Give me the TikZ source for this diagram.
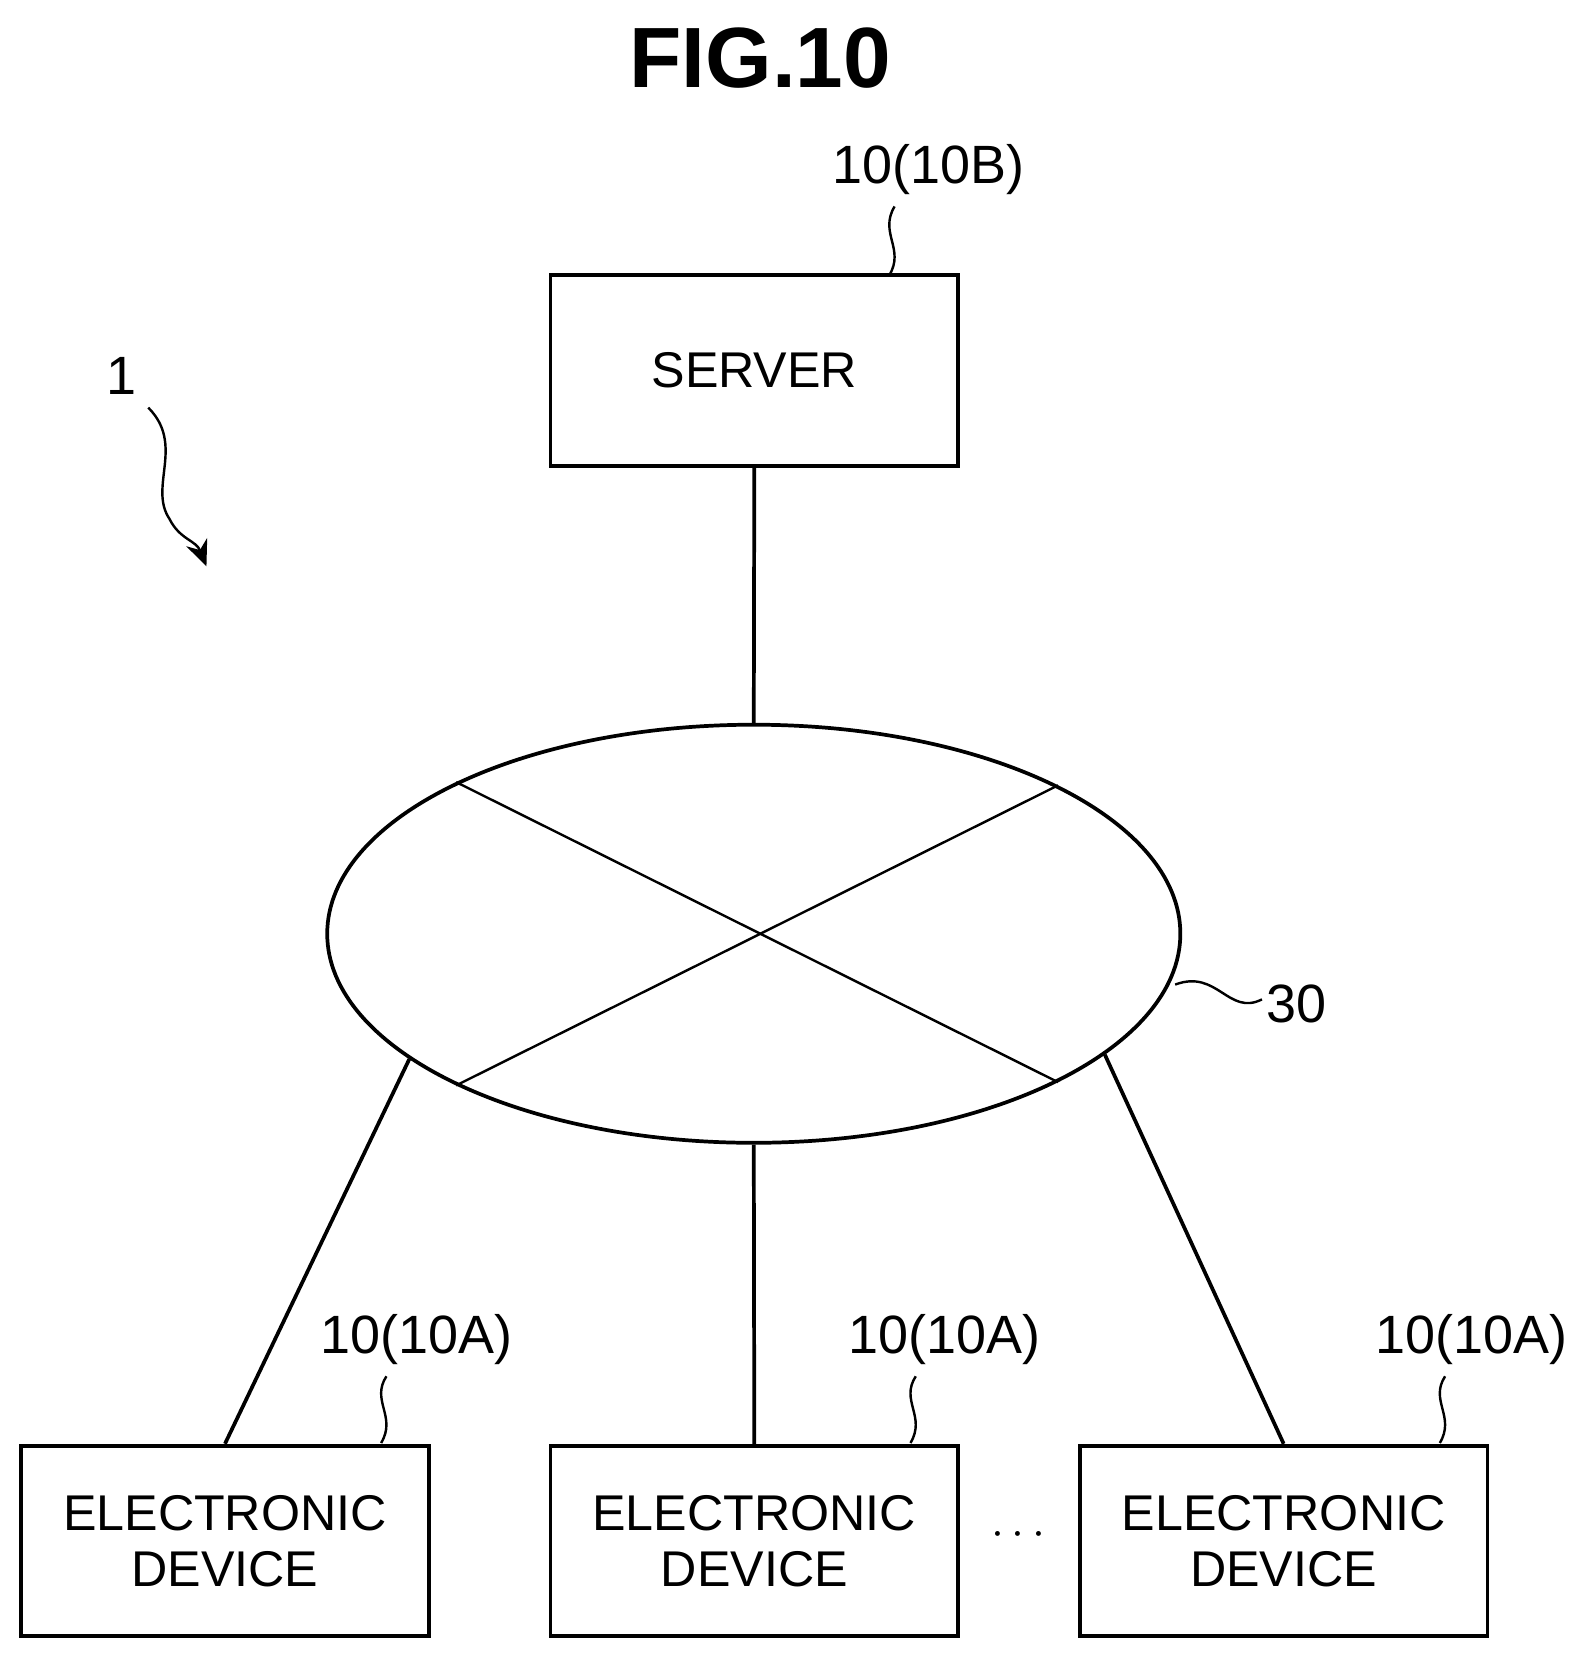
\documentclass[tikz,border=0pt]{standalone}
\usepackage{fontspec}
\setmainfont{Liberation Sans}
\usetikzlibrary{shapes.geometric,arrows.meta}
\tikzset{
	box/.style={draw, line width=2pt, minimum width=7.7cm, minimum height=3.6cm, align=center, font=\fontsize{27}{30}\selectfont},
	lbl/.style={font=\fontsize{29}{32}\selectfont},
	lead/.style={line width=1.3pt},
}
\begin{document}
\begin{tikzpicture}[x=0.02cm, y=-0.02cm, line width=2pt]
	\useasboundingbox (0,0) rectangle (1500,1568);
	\node[font=\fontsize{46}{50}\selectfont\bfseries] (fig) at (718,55) {FIG.10};

	\node[box] (srv) at (712.5,350) {SERVER};
	\node[draw, ellipse, line width=2pt, minimum width=16.12cm, minimum height=7.9cm] (net) at (712,882) {};
	\node[box] (ed1) at (212.5,1455.5) {ELECTRONIC\\DEVICE};
	\node[box] (ed2) at (712.5,1455.5) {ELECTRONIC\\DEVICE};
	\node[box] (ed3) at (1212.5,1455.5) {ELECTRONIC\\DEVICE};
	\node[lbl] (dots) at (962,1450) {$\cdots$};

	% cross inside the network
	\draw[lead] (net.153.4) -- (net.-26.6);
	\draw[lead] (net.26.6) -- (net.-153.4);

	% connections
	\draw (srv.south) -- (net.north);
	\draw (net.-160.8) -- (ed1.north);
	\draw (net.south) -- (ed2.north);
	\draw (net.-19.2) -- (ed3.north);

	% reference labels
	\node[lbl] (l10b) at (877,160) {10(10B)};
	\node[lbl] (l10a1) at (393,1265) {10(10A)};
	\node[lbl] (l10a2) at (892,1265) {10(10A)};
	\node[lbl] (l10a3) at (1390,1265) {10(10A)};
	\node[lbl] (l30) at (1225,948) {30};
	\node[lbl] (l1) at (115,355) {1};

	\draw[lead] (840,260) .. controls (855,235) and (830,220) .. (845,195);
	\foreach \x in {360,860,1360}
		\draw[lead] (\x,1363) .. controls (\x+15,1338) and (\x-10,1323) .. (\x+5,1300);
	\draw[lead] (1110,930) .. controls (1150,915) and (1160,960) .. (1192,944);
	\draw[lead, -{Stealth[length=14pt,width=12pt]}] (140,385) .. controls (175,420) and (140,460) .. (160,490) .. controls (170,510) and (185,510) .. (195,535);
\end{tikzpicture}
\end{document}
